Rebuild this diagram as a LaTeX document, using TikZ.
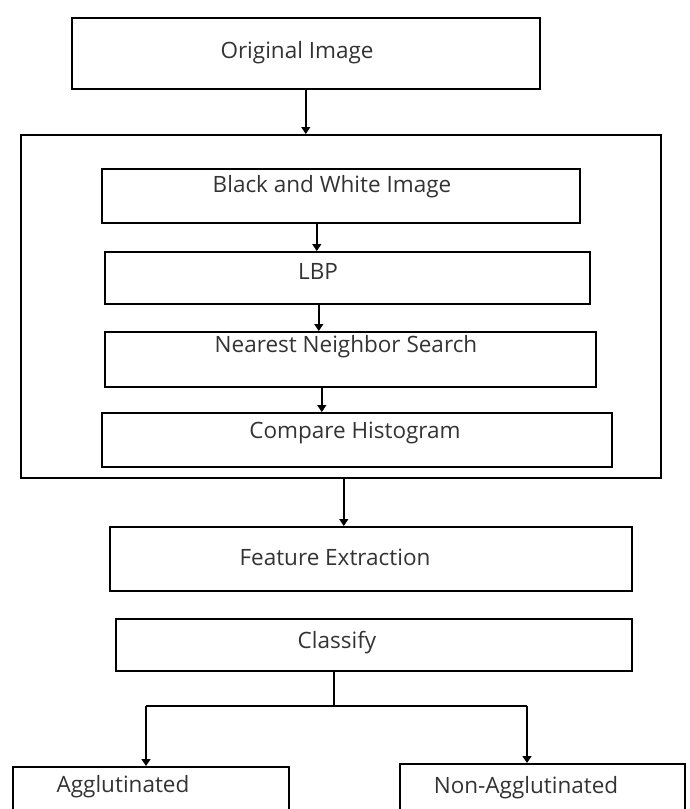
\documentclass[tikz,border=0pt]{standalone}
\usepackage{fontspec}
\setmainfont{Open Sans}
\usetikzlibrary{arrows.meta}

\tikzset{
  box/.style={draw, line width=1.6pt, anchor=north west, inner sep=0pt},
  txt/.style={font=\fontsize{22.5}{27}\selectfont, text=black!80, inner sep=0pt},
  arr/.style={line width=1.4pt, -{Triangle[length=7pt,width=9pt]}}
}

\begin{document}
\begin{tikzpicture}[x=1pt,y=-1pt]

\useasboundingbox (0,0) rectangle (690,809);
\clip (0,0) rectangle (690,809);

\node[box, minimum width=468, minimum height=71] (orig) at (71,17) {};
  \node[txt] (origtxt) at (297,53) {Original Image};

\node[box, minimum width=640, minimum height=343] (outer) at (20,134) {};

\node[box, minimum width=478, minimum height=54] (bw) at (101,168) {};
  \node[txt] (bwtxt) at (332,187) {Black and White Image};
\node[box, minimum width=485, minimum height=52] (lbp) at (104,251) {};
  \node[txt] (lbptxt) at (318,271) {LBP};
\node[box, minimum width=491, minimum height=55] (nn) at (104,331) {};
  \node[txt] (nntxt) at (346,347) {Nearest Neighbor Search};
\node[box, minimum width=510, minimum height=54] (ch) at (101,412) {};
  \node[txt] (chtxt) at (355,433) {Compare Histogram};

\node[box, minimum width=522, minimum height=64] (fe) at (109,526) {};
  \node[txt] (fetxt) at (335,557) {Feature Extraction};
\node[box, minimum width=516, minimum height=52] (cls) at (115,618) {};
  \node[txt] (clstxt) at (337,643) {Classify};

% bottom boxes run off the page
\node[box, minimum width=276, minimum height=70] (agg) at (12,766) {};
  \node[txt] (aggtxt) at (123,787) {Agglutinated};
\node[box, minimum width=285, minimum height=70] (nag) at (399,763) {};
  \node[txt] (nagtxt) at (526,788) {Non-Agglutinated};

\draw[arr] (orig.south) -- (orig.south |- outer.north);
\draw[arr] ([xshift=-24]bw.south) -- ([xshift=-24]bw.south |- lbp.north);
\draw[arr] ([xshift=-28.5]lbp.south) -- ([xshift=-28.5]lbp.south |- nn.north);
\draw[arr] ([xshift=-28.5]nn.south) -- ([xshift=-28.5]nn.south |- ch.north);
\draw[arr] ([xshift=3]outer.south) -- ([xshift=3]outer.south |- fe.north);

\coordinate (split) at (334,706);
\coordinate (lt) at (146,706);
\coordinate (rt) at (527,706);
\draw[line width=1.4pt] (split |- cls.south) -- (split);
\draw[line width=1.4pt] (lt) -- (rt);
\draw[arr] (lt) -- (lt |- agg.north);
\draw[arr] (rt) -- (rt |- nag.north);

\end{tikzpicture}
\end{document}
